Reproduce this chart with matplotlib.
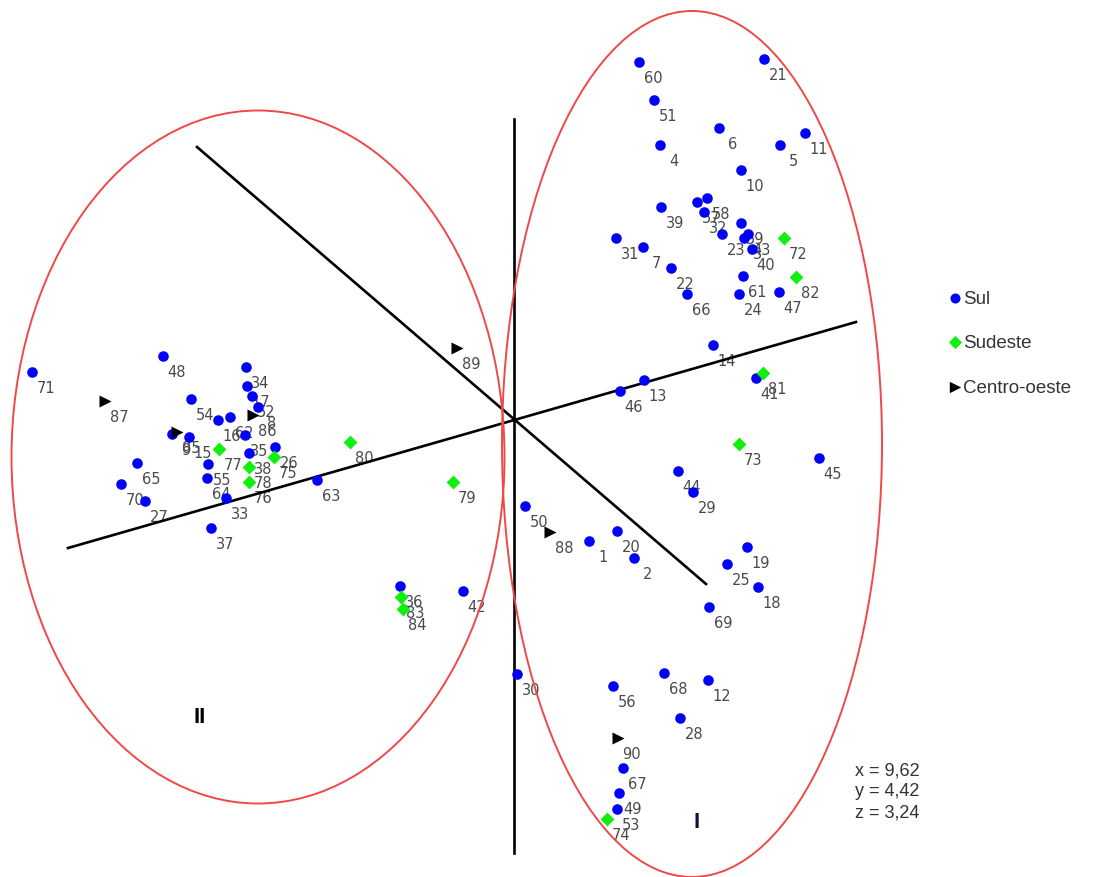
import matplotlib.pyplot as plt
from matplotlib.patches import Ellipse

# positions (picture pixel units, y pointing down)
sul_ids = [60, 21, 51, 6, 11, 4, 5, 10, 39, 57, 58, 32, 59, 23, 43, 3, 40,
           31, 7, 22, 66, 61, 24, 47, 14, 13, 46, 41, 45, 44, 29, 50, 1, 20,
           2, 19, 25, 18, 69, 30, 56, 68, 12, 28, 67, 49, 53,
           71, 48, 34, 17, 52, 8, 54, 16, 62, 35, 38, 9, 15, 26, 55, 64, 33,
           65, 70, 27, 37, 63, 36, 42]
sul_x = [639, 764, 654, 719, 805, 660, 780, 741, 661, 697, 707, 704, 741, 722,
         748, 744, 752, 616, 643, 671, 687, 743, 739, 779, 713, 644, 620, 756,
         819, 678, 693, 525, 589, 617, 634, 747, 727, 758, 709, 517, 613, 664,
         708, 680, 623, 619, 617,
         32, 163, 246, 247, 252, 258, 191, 218, 230, 245, 249, 172, 189, 275,
         208, 207, 226, 137, 121, 145, 211, 317, 400, 463]
sul_y = [63, 60, 101, 129, 134, 146, 146, 171, 208, 203, 199, 213, 224, 235,
         235, 239, 250, 239, 248, 269, 295, 277, 295, 293, 346, 381, 392, 379,
         459, 472, 493, 507, 542, 532, 559, 548, 565, 588, 608, 675, 687, 674,
         681, 719, 769, 794, 810,
         373, 357, 368, 387, 397, 408, 400, 421, 418, 436, 454, 435, 438, 448,
         465, 479, 499, 464, 485, 502, 529, 481, 587, 592]

sudeste_ids = [72, 82, 81, 73, 74, 77, 78, 76, 75, 80, 79, 83, 84]
sudeste_x = [784, 796, 763, 739, 607, 219, 249, 249, 274, 350, 453, 401, 403]
sudeste_y = [239, 278, 374, 445, 820, 450, 468, 483, 458, 443, 483, 598, 610]

co_ids = [87, 86, 85, 89, 88, 90]
co_x = [105, 253, 177, 457, 550, 618]
co_y = [402, 416, 433, 349, 533, 739]

fig = plt.figure(figsize=(10.98, 8.78), dpi=100)
ax = fig.add_axes([0, 0, 1, 1])
ax.set_xlim(0, 1098)
ax.set_ylim(878, 0)
ax.axis('off')

# point labels (under the markers)
for ids, xs, ys in [(sul_ids, sul_x, sul_y), (sudeste_ids, sudeste_x, sudeste_y),
                    (co_ids, co_x, co_y)]:
    for i, x, y in zip(ids, xs, ys):
        ax.annotate(str(i), (x, y), xytext=(10, -11.5), textcoords='offset points',
                    ha='center', va='center', fontsize=10.5, color='#4a4a4a',
                    family='DejaVu Sans', zorder=1)

# axes of the projection
ax.plot([514, 514], [120, 854], color='black', lw=1.9, zorder=2)
ax.plot([68, 856], [549, 323], color='black', lw=1.9, zorder=2)
ax.plot([197, 706], [148, 585], color='black', lw=1.9, zorder=2)

# group ellipses
ax.add_patch(Ellipse((258, 458), 493, 693, fill=False, ec='#f04848', lw=1.4, zorder=2))
ax.add_patch(Ellipse((692, 445), 380, 866, fill=False, ec='#f04848', lw=1.4, zorder=2))

ax.scatter(sul_x, sul_y, s=58, marker='o', color='#0000ff', lw=0, zorder=3, label='Sul')
ax.scatter(sudeste_x, sudeste_y, s=50, marker='D', color='#11ee11', lw=0, zorder=4,
           label='Sudeste')
ax.scatter(co_x, co_y, s=75, marker='>', color='black', lw=0, zorder=5,
           label='Centro-oeste')

leg = ax.legend(loc='upper left', bbox_to_anchor=(0.849, 0.688), frameon=False,
                prop={'family': 'Liberation Sans', 'size': 13.5}, labelspacing=1.45,
                handletextpad=0.15, handlelength=0.6, markerscale=0.95)
for t in leg.get_texts():
    t.set_color('#333333')

ax.text(200, 718, 'II', fontsize=16, fontweight='bold', ha='center', va='center',
        family='Liberation Sans')
ax.text(697, 823, 'I', fontsize=16, fontweight='bold', ha='center', va='center',
        color='#101040', family='Liberation Sans')

ax.text(855, 792, 'x = 9,62\ny = 4,42\nz = 3,24', fontsize=13, ha='left', va='center',
        color='#333333', family='Liberation Sans', linespacing=1.32)

fig.savefig('out.png', dpi=100)
